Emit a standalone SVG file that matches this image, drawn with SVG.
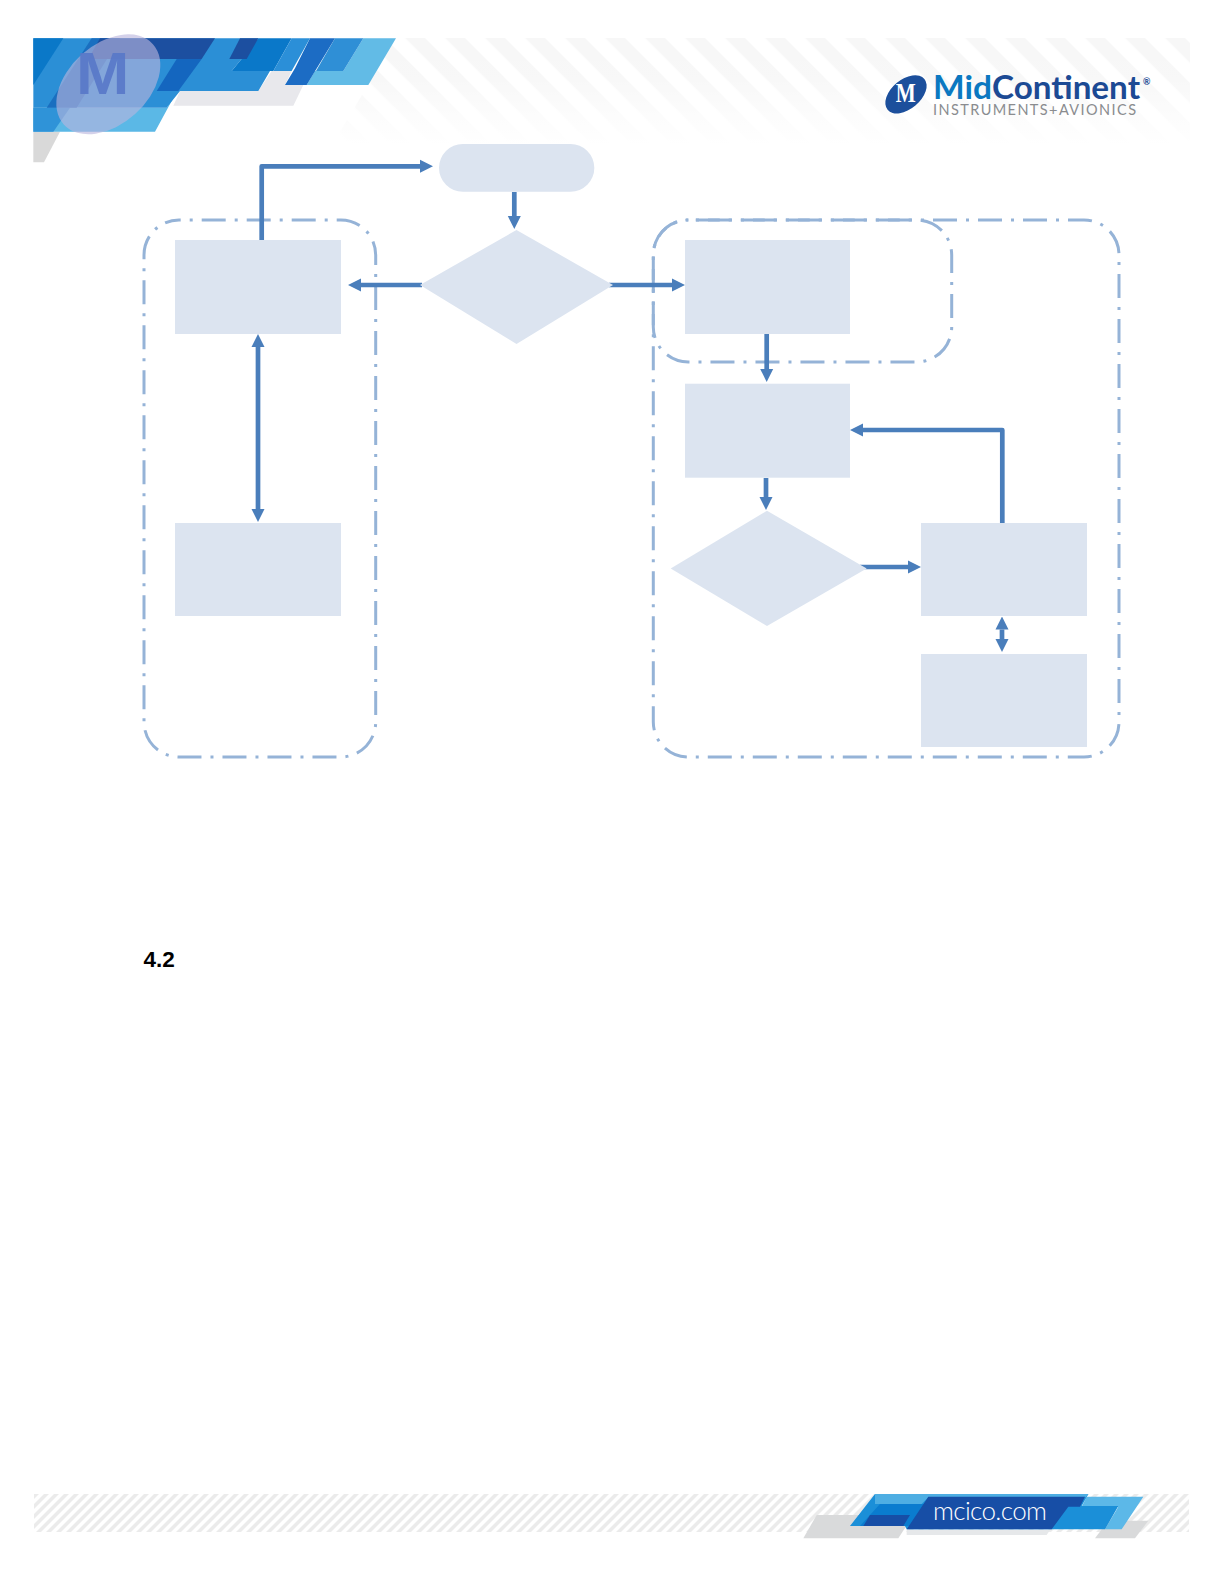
<svg xmlns="http://www.w3.org/2000/svg" width="1224" height="1584" viewBox="0 0 1224 1584">
<style>
.node{fill:#dce4f0}
.zone{fill:none;stroke:#95b3d7;stroke-width:3;stroke-dasharray:24 9 3 9}
.conn{fill:none;stroke:#4a7ebb;stroke-width:4.7;stroke-linejoin:round}
.end{marker-end:url(#head)}
.both{marker-end:url(#head);marker-start:url(#tail)}
.logo{font-family:Lato,"Open Sans","Liberation Sans",sans-serif}
</style>
<defs>
<marker id="head" markerUnits="userSpaceOnUse" markerWidth="14" markerHeight="14" refX="0" refY="7" orient="auto"><path d="M0 0.500L13 7L0 13.500Z" fill="#4a7ebb"/></marker>
<marker id="tail" markerUnits="userSpaceOnUse" markerWidth="14" markerHeight="14" refX="13" refY="7" orient="auto"><path d="M13 0.500L0 7L13 13.500Z" fill="#4a7ebb"/></marker>
<pattern id="headHatch" patternUnits="userSpaceOnUse" width="28.284" height="28.284" patternTransform="translate(425 38) rotate(45)">
<rect x="0" y="0" width="28.284" height="14" fill="#f7f7f7"/>
</pattern>
<pattern id="footHatch" patternUnits="userSpaceOnUse" width="10" height="38" patternTransform="translate(34 1494) skewX(-45)">
<rect x="0" y="0" width="5" height="38" fill="#ebebeb"/>
</pattern>
<linearGradient id="fade" x1="0" y1="0" x2="0" y2="1"><stop offset="0" stop-color="#fff" stop-opacity="0"/><stop offset="0.3" stop-color="#fff" stop-opacity="0.1"/><stop offset="0.85" stop-color="#fff" stop-opacity="1"/></linearGradient>
</defs>

<g id="header-band">
<path d="M396 38H1190V162H322Z" fill="url(#headHatch)"/>
<rect x="320" y="38" width="872" height="125" fill="url(#fade)"/>
<g transform="translate(20 25) scale(0.33333)">
<path d="M40 320H120L72 412H40Z" fill="#d9d9d9"/>
<path d="M40 248H75L40 310Z" fill="#dcdcdc"/>
<path d="M480 198H715L755 138H815L795 180H850L820 242H460Z" fill="#e8e8ec"/>
<path d="M40 248H440L470 200L405 320H40Z" fill="#5bb8e6"/>
<path d="M40 248H150L100 320H40Z" fill="#2f93d8"/>
<path d="M40 40H715L635 138H750L715 198H480L440 248H40Z" fill="#2b8fd6"/>
<path d="M40 40H130L40 180Z" fill="#0a78c8"/>
<path d="M215 40H300L170 248H80Z" fill="#1a6fc0"/>
<path d="M470 102H545L475 198H410Z" fill="#1466bf"/>
<path d="M240 40H585L545 102H205Z" fill="#1c4fa0"/>
<path d="M1030 40H1128L1045 180H860L885 138H970Z" fill="#62bbe6"/>
<path d="M945 40H1030L970 138H888Z" fill="#2f8fd6"/>
<path d="M870 40H945L860 180H795L825 130Z" fill="#1c6cc4"/>
<path d="M715 40H815L760 138H635Z" fill="#0a78c9"/>
<path d="M815 40H870L815 138H760Z" fill="#2b8fd8"/>
<path d="M660 40H715L680 102H628Z" fill="#1c4fa0"/>
<ellipse cx="265" cy="178" rx="180" ry="120" transform="rotate(-42 265 178)" fill="#b9b4dd" fill-opacity="0.62"/>
<text x="248" y="207" font-family="'Liberation Sans',sans-serif" font-weight="700" font-size="178" text-anchor="middle" fill="#5878c8" fill-opacity="0.9" textLength="160" lengthAdjust="spacingAndGlyphs">M</text>
</g>
</g>

<g id="brand-logo">
<g transform="translate(840 25) scale(0.33333)">
<ellipse cx="198" cy="208" rx="72" ry="44" transform="rotate(-40 198 208)" fill="#1c4f9c"/>
<text x="197" y="232" font-family="'Liberation Serif',serif" font-weight="700" font-size="84" text-anchor="middle" fill="#fff" textLength="60" lengthAdjust="spacingAndGlyphs">M</text>
</g>
<text class="logo" x="933" y="99" font-size="32" font-weight="700" fill="#0b78c1" textLength="59" lengthAdjust="spacingAndGlyphs">Mid</text>
<text class="logo" x="992" y="99" font-size="32" font-weight="700" fill="#1c4a94" textLength="148" lengthAdjust="spacingAndGlyphs">Continent</text>
<text class="logo" x="1143" y="85" font-size="9" font-weight="700" fill="#1c4a94">®</text>
<text class="logo" x="933" y="115" font-size="14.500" fill="#8a8c8f" textLength="203" lengthAdjust="spacing">INSTRUMENTS+AVIONICS</text>
</g>

<g id="zones">
<rect id="zone-left" class="zone" x="144" y="220" width="231.700" height="537" rx="35" ry="35" stroke-dashoffset="-22.7"/>
<rect id="zone-right" class="zone" x="653.300" y="220" width="465.700" height="537" rx="35" ry="35" stroke-dashoffset="-19.7"/>
<rect id="zone-inner" class="zone" x="653.300" y="220" width="298.400" height="142" rx="35" ry="35" stroke-dashoffset="-7.4"/>
</g>

<g id="connectors">
<path class="conn end" d="M261.700 240V166.300H420"/>
<path class="conn end" d="M514.300 192V216"/>
<path class="conn end" d="M422 285H361"/>
<path class="conn end" d="M609 285H672"/>
<path class="conn both" d="M258 347V509"/>
<path class="conn end" d="M766.700 334V369"/>
<path class="conn end" d="M766 478V497"/>
<path class="conn end" d="M860 567H908"/>
<path class="conn end" d="M1002.300 523V430H863"/>
<path class="conn both" d="M1002 629.500V639"/>
</g>

<g id="n-start"><rect class="node" x="439" y="144" width="155.300" height="47.700" rx="23.800"/></g>
<g id="n-decision-1"><path class="node" d="M516.500 230L613 285L516.500 344L420 285Z"/></g>
<g id="n-left-top"><rect class="node" x="175" y="240" width="166" height="94"/></g>
<g id="n-left-bottom"><rect class="node" x="175" y="523" width="166" height="93"/></g>
<g id="n-right-1"><rect class="node" x="685" y="240" width="165" height="94"/></g>
<g id="n-right-2"><rect class="node" x="685" y="383.700" width="165" height="94"/></g>
<g id="n-decision-2"><path class="node" d="M767 510.700L866.700 568.500L767 626L670.700 568.500Z"/></g>
<g id="n-right-3"><rect class="node" x="921" y="523" width="166" height="93"/></g>
<g id="n-right-4"><rect class="node" x="921" y="654" width="166" height="93"/></g>

<text id="section-number" x="143.500" y="967" font-family="'Liberation Sans',Arial,sans-serif" font-weight="700" font-size="22.500">4.2</text>

<g id="footer-band">
<rect x="34" y="1494" width="1155" height="38" fill="url(#footHatch)"/>
<g transform="translate(780 1480) scale(0.33333)">
<path d="M110 105H400L355 175H70Z" fill="#d9dadb"/>
<path d="M985 122H1105L1065 175H945Z" fill="#d9dadb"/>
<path d="M380 150H810L800 165H380Z" fill="#e6e8ea"/>
<path d="M920 50H1090L1025 148H975L1015 80H905Z" fill="#5cb8e8"/>
<path d="M285 42H925L905 78H1015L975 148H380L375 138H210Z" fill="#1b8fd8"/>
<path d="M285 42H925L918 52H445L425 72H305L285 72Z" fill="#4eaee3"/>
<path d="M300 72H445L395 138H240Z" fill="#0a7ccf"/>
<path d="M445 50H915L900 80H865L815 148H380Z" fill="#174ea6"/>
<path d="M270 105H390L370 138H250Z" fill="#174ea6"/>
</g>
<text x="933" y="1520" class="logo" font-size="26" font-weight="300" fill="#fff" textLength="114" lengthAdjust="spacing">mcico.com</text>
</g>
</svg>
